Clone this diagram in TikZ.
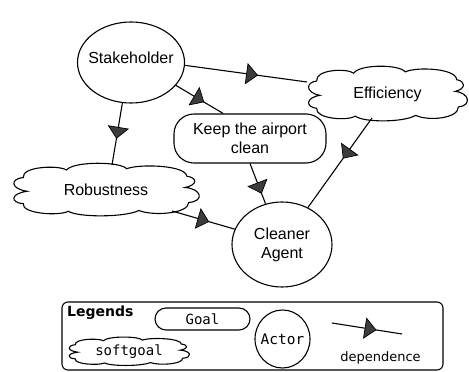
\documentclass[tikz,border=0pt]{standalone}
\usepackage{fontspec}
\setmainfont{Liberation Sans}
\newfontfamily\legmono{DejaVu Sans Mono}
\newfontfamily\legsans{DejaVu Sans}
\usetikzlibrary{shapes.geometric,decorations.markings,calc}
\definecolor{trifill}{HTML}{3C3C3C}
\begin{document}
\begin{tikzpicture}[x=1pt,y=-1pt,
  every node/.style={font=\fontsize{16}{19}\selectfont},
  actor/.style={draw, ellipse, line width=1.1pt, inner sep=0pt},
  cloudnode/.style={ellipse, inner sep=0pt},
  link/.style={line width=1.1pt},
  dep/.style={link, postaction={decorate},
    decoration={markings, mark=at position #1 with {\filldraw[line width=0.7pt, fill=trifill] (-5.5pt,10pt) -- (5.5pt,0pt) -- (-5.5pt,-10pt) -- cycle;}}},
  dep/.default=0.5,
  legfont/.style={font=\legmono\fontsize{14}{16}\selectfont},
  cloudshape/.pic={\draw[line width=1.1pt]
    (-0.88,-0.5) .. controls (-0.9,-0.95) and (-0.5,-1.0) .. (-0.42,-0.8)
    .. controls (-0.35,-1.15) and (0.15,-1.15) .. (0.22,-0.85)
    .. controls (0.35,-1.05) and (0.85,-1.0) .. (0.86,-0.55)
    .. controls (0.97,-0.5) and (0.98,-0.2) .. (0.84,-0.1)
    .. controls (1.02,-0.05) and (1.05,0.45) .. (0.88,0.5)
    .. controls (0.88,0.95) and (0.5,1.05) .. (0.35,0.82)
    .. controls (0.2,1.1) and (-0.3,1.1) .. (-0.4,0.85)
    .. controls (-0.5,1.05) and (-0.9,0.95) .. (-0.88,0.55)
    .. controls (-1.02,0.5) and (-1.02,0.15) .. (-0.84,0.05)
    .. controls (-1.02,-0.05) and (-1.02,-0.45) .. (-0.88,-0.5) -- cycle;}
]
\useasboundingbox (0,0) rectangle (469,372);
\fill[white] (0,0) rectangle (469,372);

% main nodes
\node[actor, minimum width=107pt, minimum height=81pt, inner xsep=-16pt, text depth=9pt] (stake) at (131,62.5) {Stakeholder};
\node[actor, minimum width=100pt, minimum height=85pt, align=center] (cleaner) at (282,244.5) {Cleaner\\Agent};
\node[draw, line width=1.1pt, rounded corners=20pt, minimum width=152pt, minimum height=49pt, inner sep=0pt, align=center] (keep) at (250,138.5) {Keep the airport\\clean};
\node[cloudnode, minimum width=161pt, minimum height=52pt] (eff) at (387.5,94) {Efficiency};
\pic[xscale=80.5, yscale=26] at (eff) {cloudshape};
\node[cloudnode, minimum width=188pt, minimum height=50pt] (rob) at (106,190) {Robustness};
\pic[xscale=94, yscale=25] at (rob) {cloudshape};

% dependencies
\draw[dep=0.55] (stake.-3) -- ($(eff)+(-80.5,-12)$);
\draw[dep=0.49] (stake.-27) -- (keep.137);
\draw[dep=0.48] (stake.258) -- ($(rob)+(6,-25)$);
\draw[dep=0.61] (keep.south) -- (cleaner.112);
\draw[dep=0.5] ($(rob)+(66,21)$) -- (cleaner.162);
\draw[dep=0.4] ($(eff)+(-15.5,24)$) -- (cleaner.55);

% legend
\node[draw, line width=1.1pt, rounded corners=6pt, minimum width=381pt, minimum height=68pt, inner sep=0pt] (legbox) at (252.5,336) {};
\node[anchor=base west, inner sep=0pt, font=\legsans\bfseries\fontsize{14}{16}\selectfont] (legtitle) at (67,316) {Legends};
\node[draw, line width=1.1pt, rounded corners=11pt, minimum width=95pt, minimum height=22pt, inner sep=0pt, legfont] (goal) at (202.5,319) {Goal};
\node[cloudnode, minimum width=122pt, minimum height=27pt, legfont] (sg) at (129,351.5) {softgoal};
\pic[xscale=61, yscale=13.5] at (sg) {cloudshape};
\node[actor, minimum width=55pt, minimum height=58pt, inner xsep=-4pt, font=\legmono\fontsize{14.5}{16}\selectfont] (act) at (282.5,339) {Actor};
\coordinate (depA) at (332,323);
\coordinate (depB) at (402,334);
\draw[dep=0.55] (depA) -- (depB);
\node[font=\legsans\fontsize{13}{15}\selectfont, inner sep=0pt] (deptext) at (380.5,357.5) {dependence};
\end{tikzpicture}
\end{document}
